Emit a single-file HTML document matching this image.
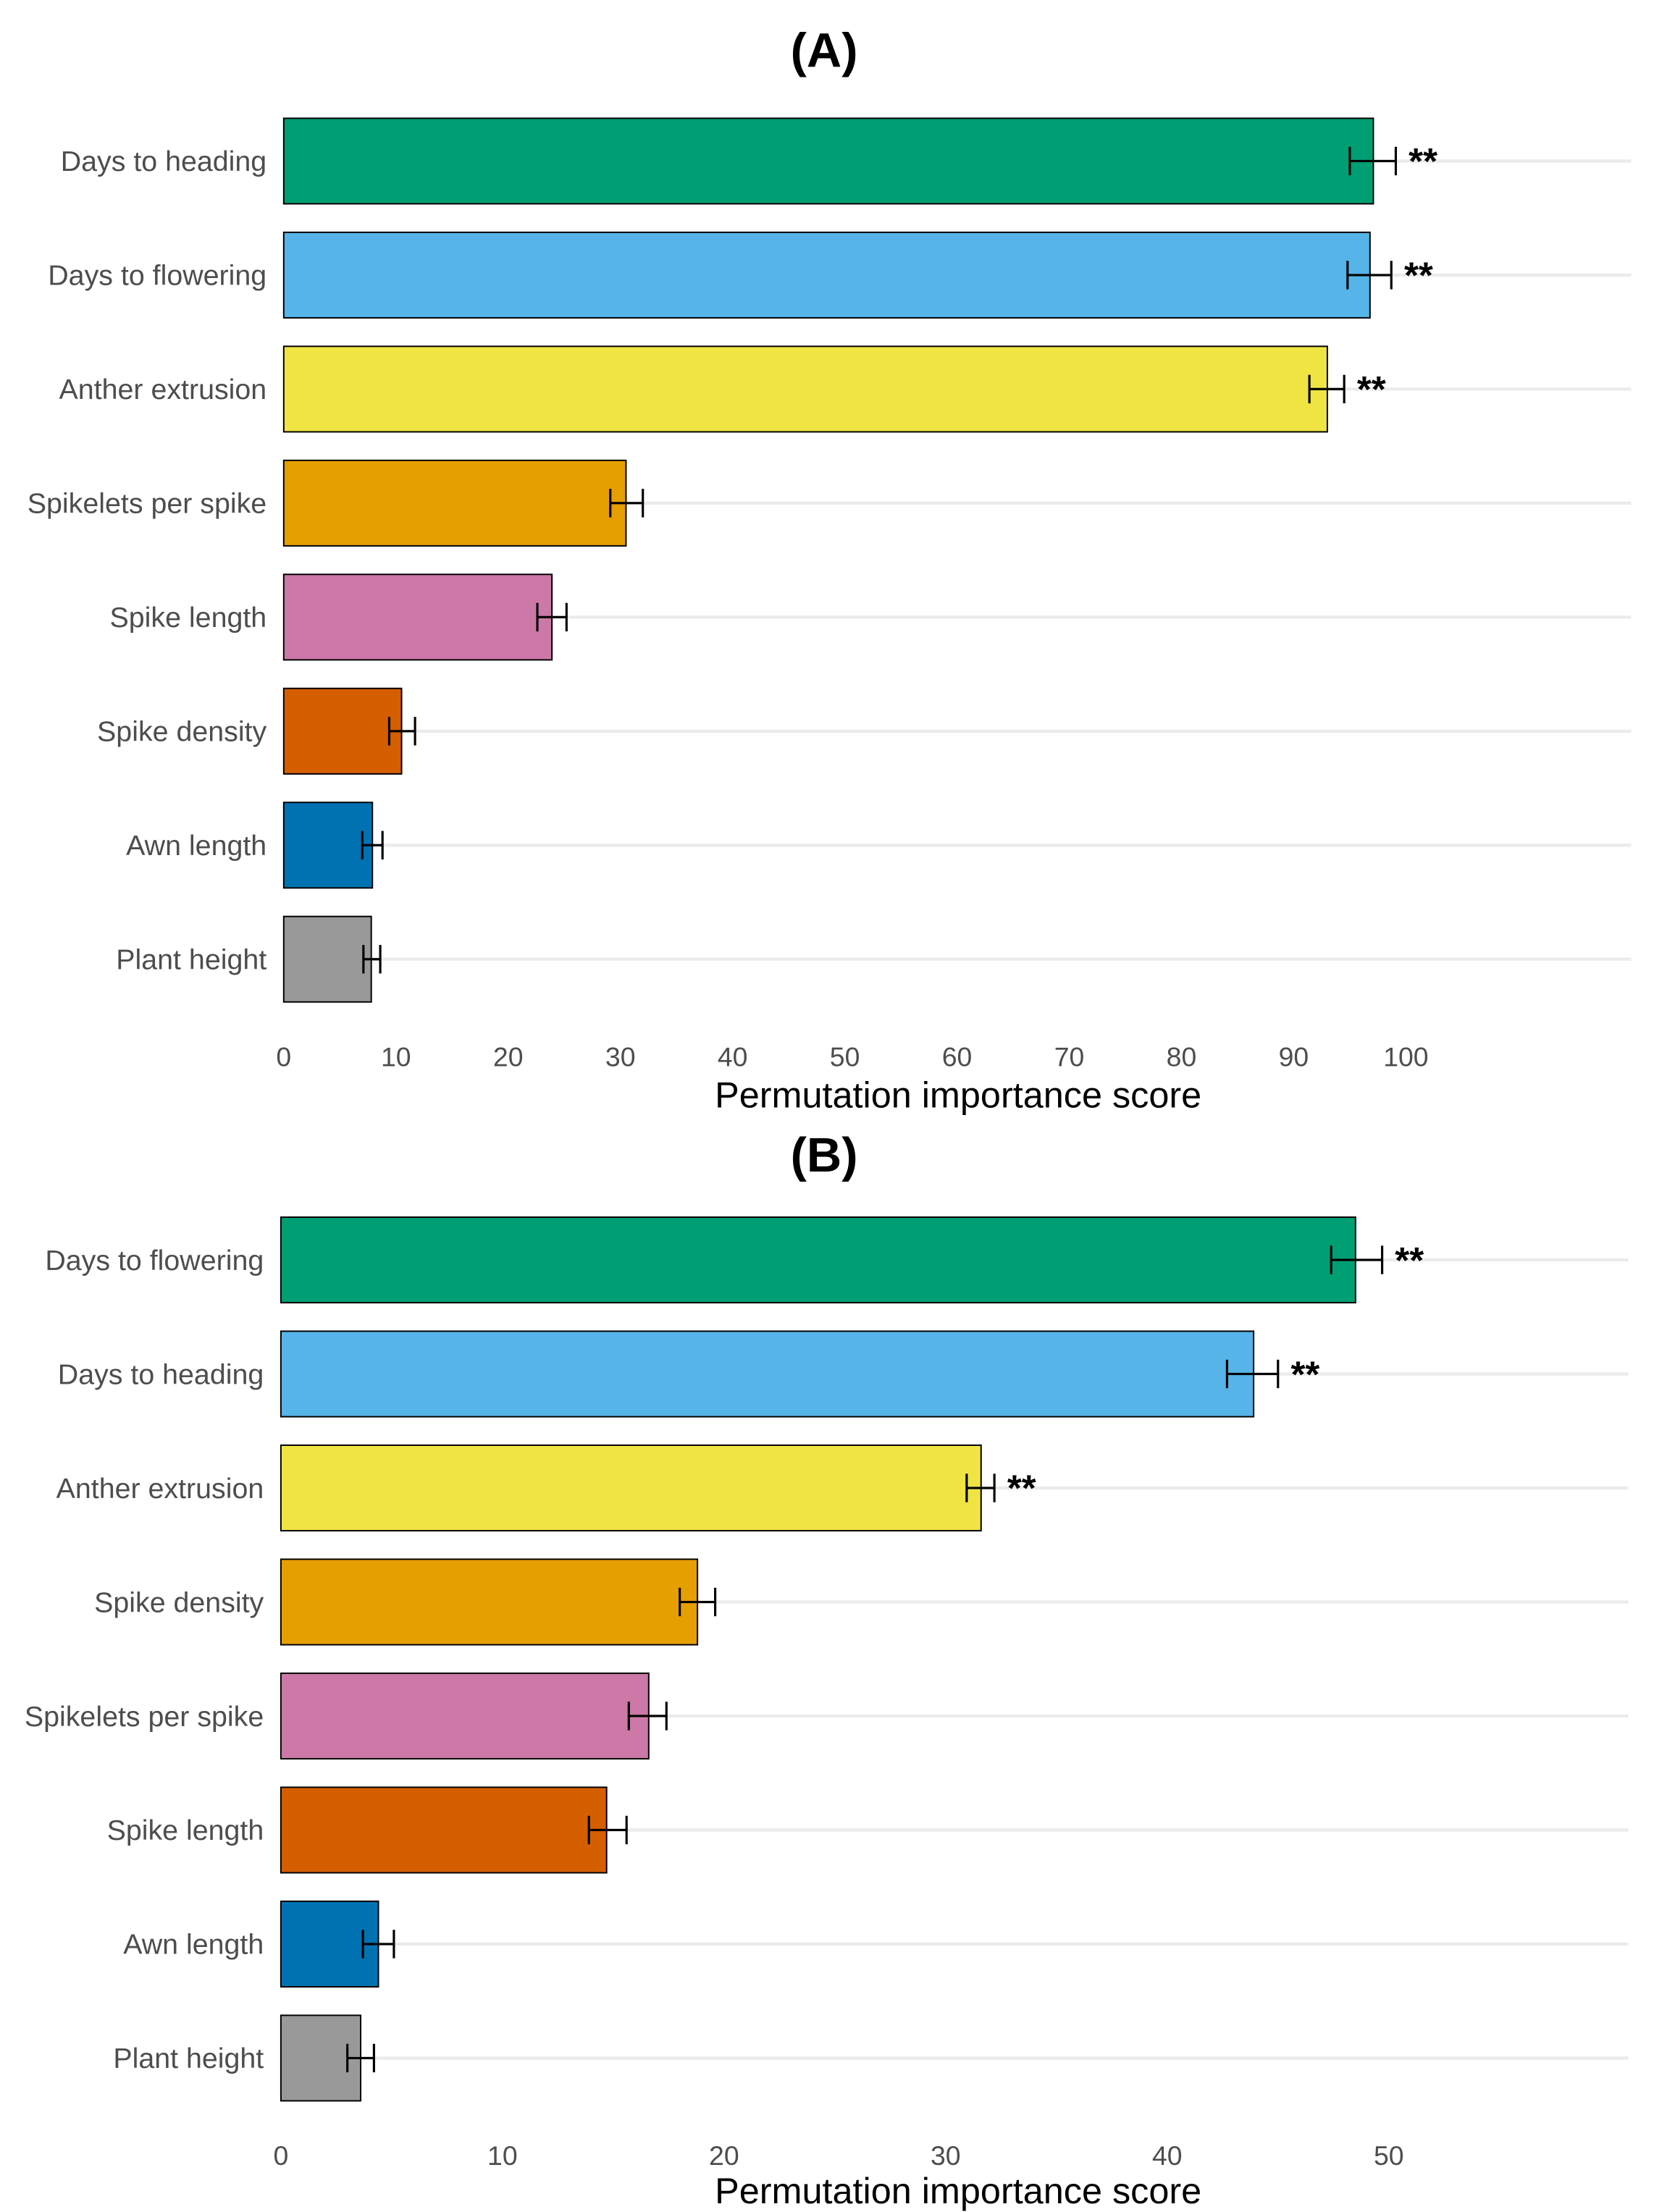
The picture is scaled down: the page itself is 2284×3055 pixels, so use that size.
<!DOCTYPE html>
<html><head><meta charset="utf-8"><style>
html,body{margin:0;padding:0;background:#fff;}
svg{display:block;}
text{font-family:"Liberation Sans",sans-serif;}
</style></head><body>
<svg id="chart" width="2284" height="3055" viewBox="0 0 1160 1552" preserveAspectRatio="none" xmlns="http://www.w3.org/2000/svg"></svg>
<script>
const colors = ["#009E73","#56B4E9","#F0E442","#E69F00","#CC79A7","#D55E00","#0072B2","#999999"];
const catsA = ["Days to heading","Days to flowering","Anther extrusion","Spikelets per spike","Spike length","Spike density","Awn length","Plant height"];
const valsA = [97.1,96.8,93.0,30.5,23.9,10.5,7.9,7.8];
const loA = [95.0,94.8,91.4,29.1,22.6,9.4,7.0,7.1];
const hiA = [99.1,98.7,94.5,32.0,25.2,11.7,8.8,8.6];
const sigA = [true,true,true,false,false,false,false,false];
const ticksA = [0,10,20,30,40,50,60,70,80,90,100];
const catsB = ["Days to flowering","Days to heading","Anther extrusion","Spike density","Spikelets per spike","Spike length","Awn length","Plant height"];
const valsB = [48.5,43.9,31.6,18.8,16.6,14.7,4.4,3.6];
const loB = [47.4,42.7,30.95,18.0,15.7,13.9,3.7,3.0];
const hiB = [49.7,45.0,32.2,19.6,17.4,15.6,5.1,4.2];
const sigB = [true,true,true,false,false,false,false,false];
const ticksB = [0,10,20,30,40,50];

const svg = document.getElementById('chart');
const NS = "http://www.w3.org/2000/svg";
function mk(tag, attrs, parent){const e=document.createElementNS(NS,tag);for(const k in attrs)e.setAttribute(k,attrs[k]);parent.appendChild(e);return e;}

function panel(id, title, titleY, x0, pxPer, xRight, y0, cats, vals, lo, hi, sig, ticks, tickY, axTitleY){
  const g = mk('g',{},svg);
  
  
  const xs = v => x0 + v*pxPer;
  const ys = i => y0 + i*80;
  const t = mk('text',{x:578,y:titleY,'text-anchor':'middle','font-size':34,'font-weight':'bold',fill:'#000'},g);
  t.textContent = title;
  
  
  cats.forEach((c,i)=>{
    const y = ys(i);
    const gl = mk('line',{x1:x0,x2:xRight,y1:y,y2:y,stroke:'#ebebeb','stroke-width':2.2},g);
    
    
  });
  cats.forEach((c,i)=>{
    const y = ys(i);
    const b = mk('rect',{x:xs(0),y:y-30,width:xs(vals[i])-xs(0),height:60,fill:colors[i],stroke:'#000','stroke-width':1},g);
    
    
    const eg = mk('g',{stroke:'#000','stroke-width':1.6},g);
    
    
    mk('line',{x1:xs(lo[i]),x2:xs(hi[i]),y1:y,y2:y},eg);
    mk('line',{x1:xs(lo[i]),x2:xs(lo[i]),y1:y-10,y2:y+10},eg);
    mk('line',{x1:xs(hi[i]),x2:xs(hi[i]),y1:y-10,y2:y+10},eg);
    const lb = mk('text',{x:x0-12,y:y+7,'text-anchor':'end','font-size':20,fill:'#4d4d4d'},g);
    lb.textContent = c;
    
    
    if(sig[i]){
      const s = mk('text',{x:xs(hi[i])+9,y:y+9,'font-size':26,'font-weight':'bold',fill:'#000'},g);
      s.textContent = '**';
      
      
    }
  });
  ticks.forEach(v=>{
    const tk = mk('text',{x:xs(v),y:tickY,'text-anchor':'middle','font-size':19,fill:'#4d4d4d'},g);
    tk.textContent = v;
    
    
  });
  const at = mk('text',{x:672,y:axTitleY,'text-anchor':'middle','font-size':25.6,fill:'#000'},g);
  at.textContent = 'Permutation importance score';
  
  
}
panel('a','(A)',47,199,7.87,1144,113,catsA,valsA,loA,hiA,sigA,ticksA,748,777);
panel('b','(B)',822,197,15.54,1142,884,catsB,valsB,loB,hiB,sigB,ticksB,1519,1546);
</script>
</body></html>
